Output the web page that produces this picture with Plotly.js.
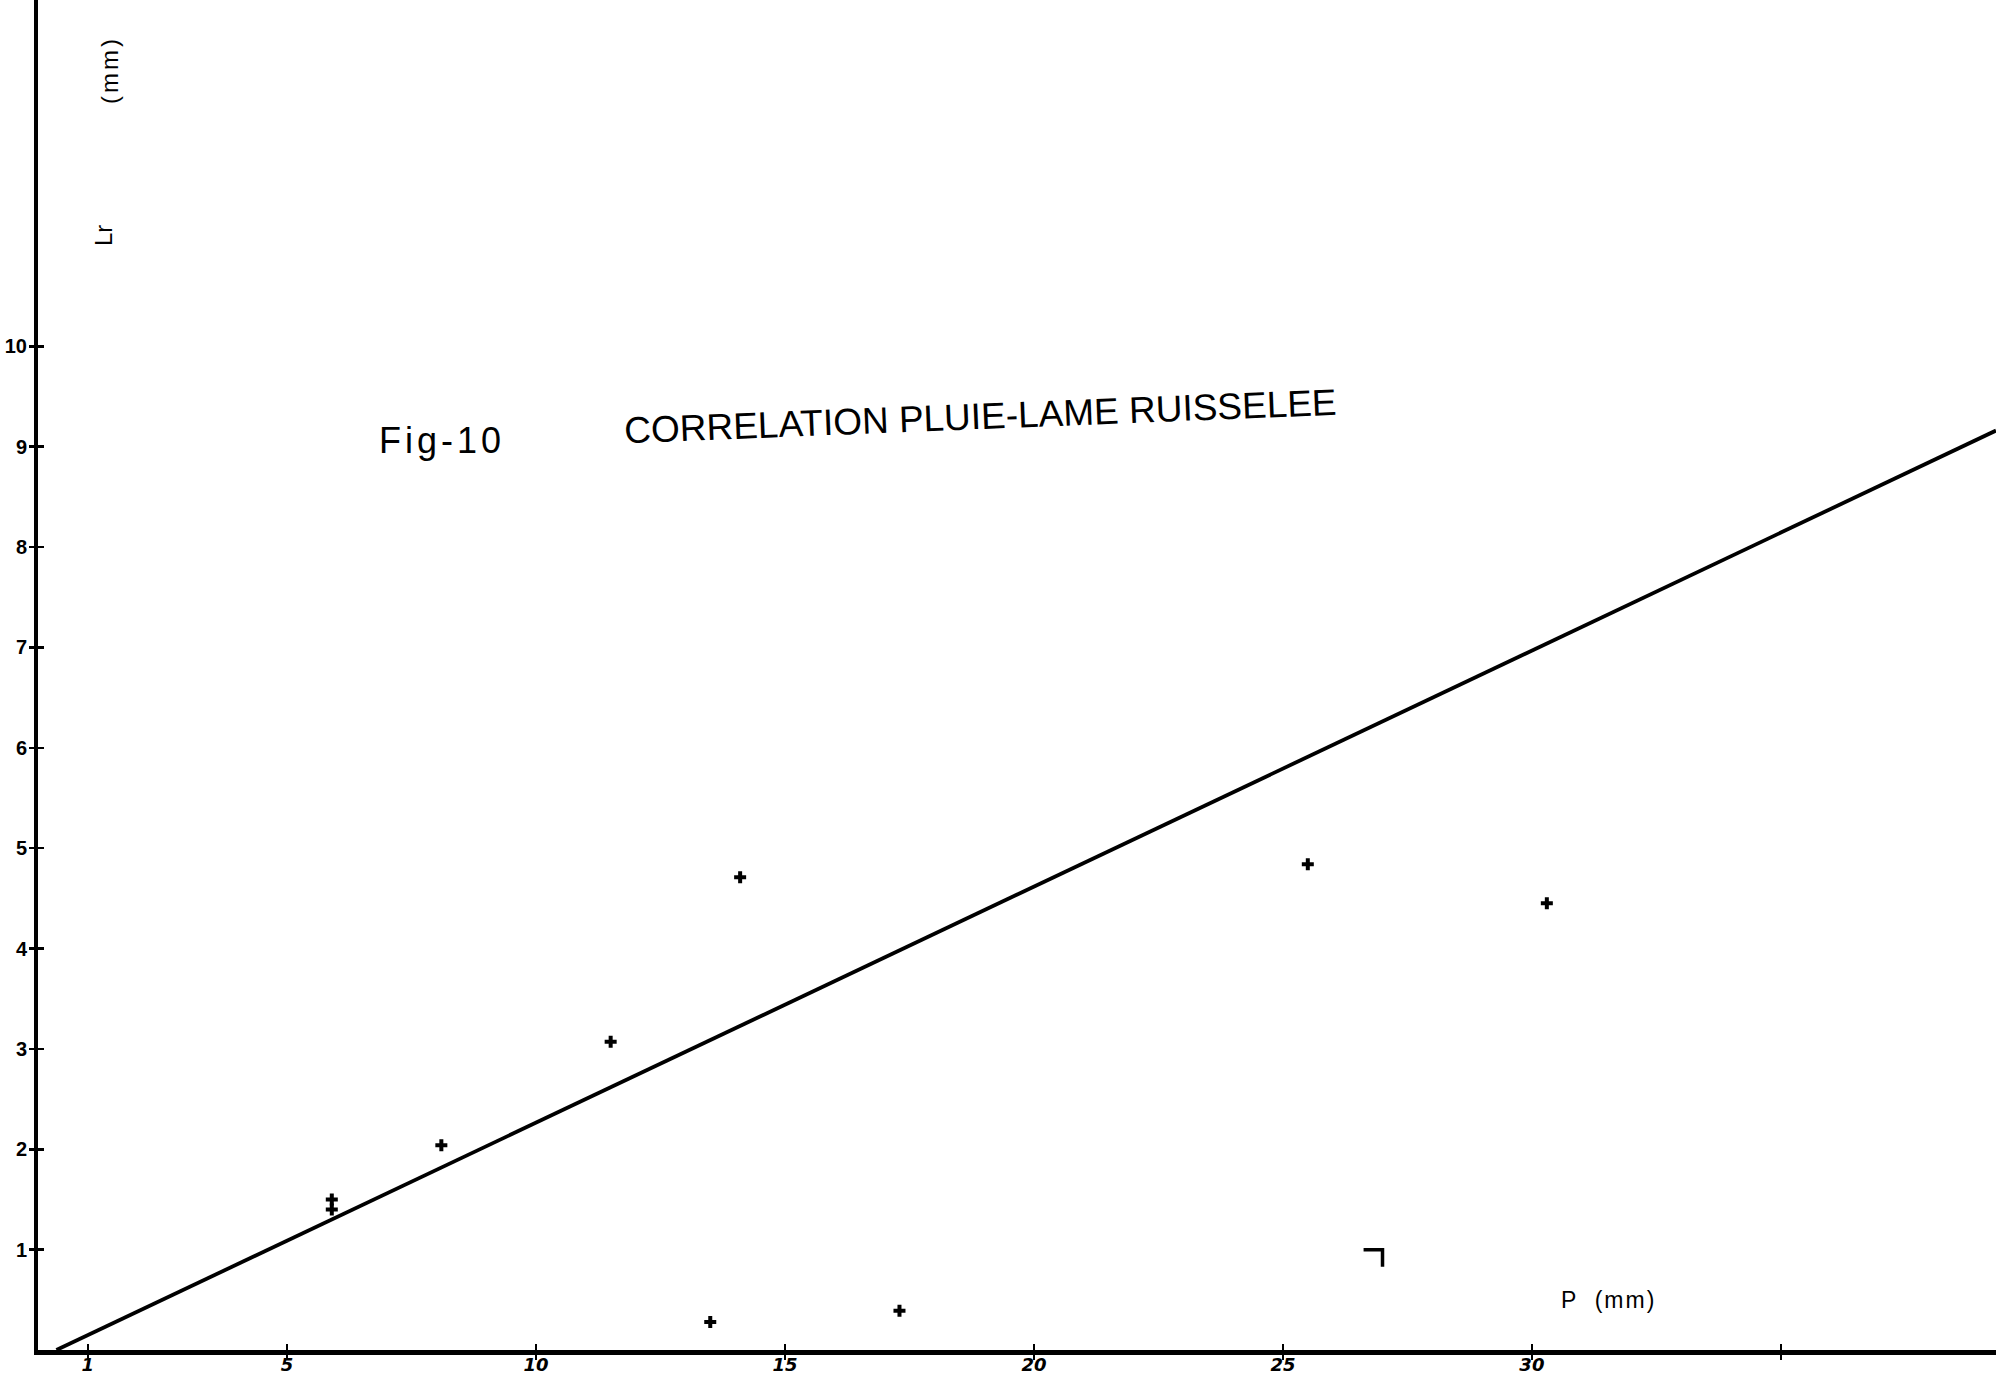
<!DOCTYPE html>
<html>
<head>
<meta charset="utf-8">
<script src="https://cdn.plot.ly/plotly-3.0.1.min.js"></script>
<style>
  html, body { margin: 0; padding: 0; background: #ffffff; }
  #chart { width: 1996px; height: 1375px; }
</style>
</head>
<body>
<div id="chart"></div>
<script>
// Rainfall P (mm) against runoff depth Lr (mm), one point per event
const rainfallP = [5.9, 5.9, 8.1, 11.5, 14.1, 13.5, 17.3, 25.5, 30.3];
const runoffLr  = [1.50, 1.40, 2.04, 3.07, 4.71, 0.28, 0.39, 4.84, 4.45];

// Hand-fitted correlation line (end points)
const fitP  = [0.37, 39.32];
const fitLr = [0.0, 9.16];

// Small bracket mark drawn near P = 27
const bracketP  = [26.62, 27.0, 27.0];
const bracketLr = [1.00, 1.00, 0.83];

// Axis ticks
const xTickVals = [1, 5, 10, 15, 20, 25, 30, 35];
const xTickText = ['1', '5', '10', '15', '20', '25', '30', ''];
const yTickVals = [1, 2, 3, 4, 5, 6, 7, 8, 9, 10];
const yTickText = ['1', '2', '3', '4', '5', '6', '7', '8', '9', '10'];

const xRange = [0, 39.32];
const yRange = [0, 13.45];

const ink = '#000000';
const tickFontX = { family: 'DejaVu Sans', size: 18, color: ink, weight: 'bold', style: 'italic' };
const tickFontY = { family: 'Liberation Sans', size: 20, color: ink, weight: 'bold' };

// paper coordinates from pixel positions inside the 1996x1375 page
const plotL = 38, plotW = 1958, plotH = 1350;
const px = v => (v - plotL) / plotW;
const py = v => (plotH - v) / plotH;

const traces = [
  {
    x: fitP, y: fitLr, mode: 'lines', type: 'scatter',
    line: { color: ink, width: 3.8 }, hoverinfo: 'skip'
  },
  {
    x: rainfallP, y: runoffLr, mode: 'markers', type: 'scatter',
    marker: { symbol: 'cross', size: 10, color: ink, line: { width: 0 } }
  },
  {
    x: bracketP, y: bracketLr, mode: 'lines', type: 'scatter',
    line: { color: ink, width: 3.5 }, hoverinfo: 'skip'
  },
  // carrier for the overlay axes that draw the inner half of each tick
  {
    x: [null], y: [null], xaxis: 'x2', yaxis: 'y2', mode: 'markers', type: 'scatter',
    hoverinfo: 'skip'
  }
];

const layout = {
  width: 1996, height: 1375,
  margin: { l: plotL, r: 0, t: 0, b: 1375 - plotH, pad: 0 },
  paper_bgcolor: '#ffffff', plot_bgcolor: '#ffffff',
  showlegend: false,
  xaxis: {
    range: xRange, showgrid: false, zeroline: false,
    showline: true, linecolor: ink, linewidth: 5,
    ticks: 'outside', ticklen: 5, tickwidth: 2.5, tickcolor: ink,
    tickvals: xTickVals, ticktext: xTickText, tickfont: tickFontX,
    ticklabelstandoff: -11
  },
  yaxis: {
    range: yRange, showgrid: false, zeroline: false,
    showline: true, linecolor: ink, linewidth: 4,
    ticks: 'outside', ticklen: 5, tickwidth: 2.5, tickcolor: ink,
    tickvals: yTickVals, ticktext: yTickText, tickfont: tickFontY,
    ticklabelstandoff: -2
  },
  xaxis2: {
    overlaying: 'x', anchor: 'y', range: xRange,
    showgrid: false, zeroline: false, showline: false,
    ticks: 'inside', ticklen: 6, tickwidth: 2.5, tickcolor: ink,
    tickvals: xTickVals, showticklabels: false
  },
  yaxis2: {
    overlaying: 'y', anchor: 'x', range: yRange,
    showgrid: false, zeroline: false, showline: false,
    ticks: 'inside', ticklen: 6, tickwidth: 2.5, tickcolor: ink,
    tickvals: yTickVals, showticklabels: false
  },
  annotations: [
    {
      xref: 'paper', yref: 'paper', x: px(442), y: py(440),
      xanchor: 'center', yanchor: 'middle',
      text: '<span style="letter-spacing:4px">Fig-10</span>', showarrow: false,
      font: { family: 'Liberation Sans', size: 36, color: ink }
    },
    {
      xref: 'paper', yref: 'paper', x: px(980), y: py(416),
      xanchor: 'center', yanchor: 'middle',
      text: 'CORRELATION PLUIE-LAME RUISSELEE', showarrow: false, textangle: -2.3,
      font: { family: 'Liberation Sans', size: 37, color: ink }
    },
    {
      xref: 'paper', yref: 'paper', x: px(1608), y: py(1300),
      xanchor: 'center', yanchor: 'middle',
      text: '<span style="letter-spacing:2px">P  (mm)</span>', showarrow: false,
      font: { family: 'Liberation Sans', size: 23, color: ink }
    },
    {
      xref: 'paper', yref: 'paper', x: px(103), y: py(236),
      xanchor: 'center', yanchor: 'middle',
      text: 'Lr', showarrow: false, textangle: -90,
      font: { family: 'Liberation Sans', size: 24, color: ink }
    },
    {
      xref: 'paper', yref: 'paper', x: px(110), y: py(70),
      xanchor: 'center', yanchor: 'middle',
      text: '<span style="letter-spacing:3px">(mm)</span>', showarrow: false, textangle: -90,
      font: { family: 'Liberation Sans', size: 24, color: ink }
    }
  ]
};

Plotly.newPlot('chart', traces, layout, { displayModeBar: false, staticPlot: true });
</script>
</body>
</html>
